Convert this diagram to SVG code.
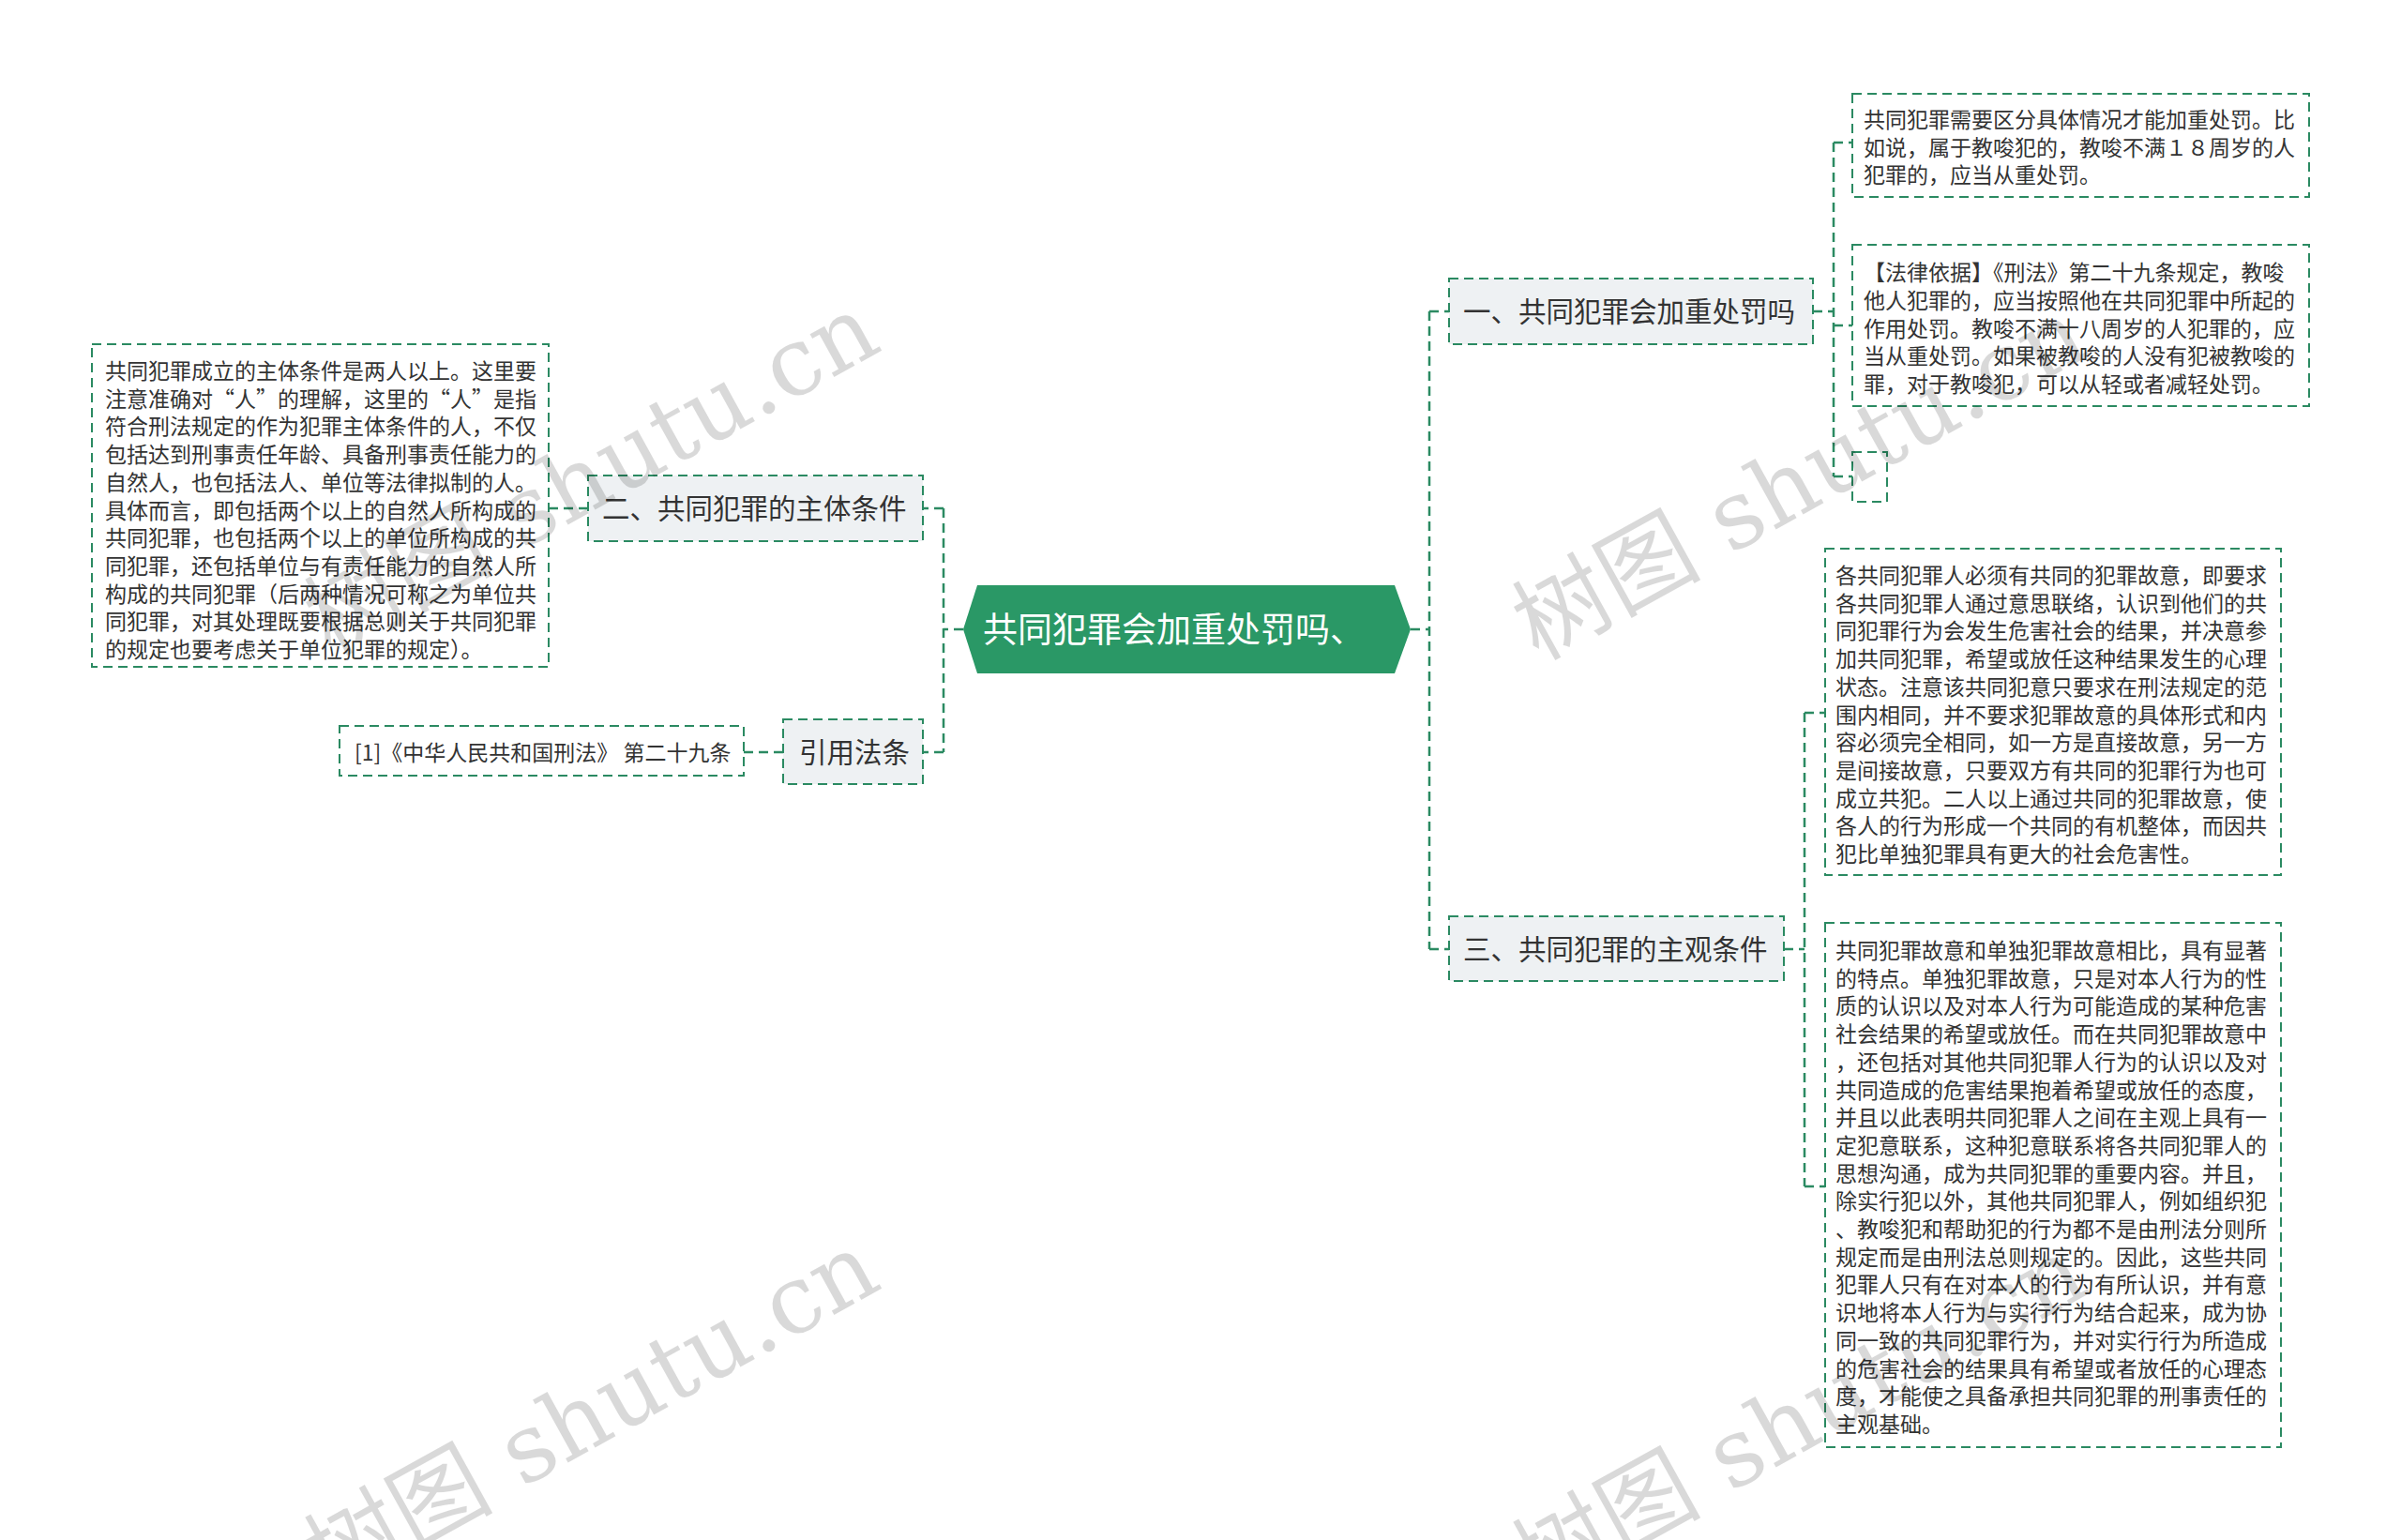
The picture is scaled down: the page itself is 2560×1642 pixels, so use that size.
<svg xmlns="http://www.w3.org/2000/svg" width="2560" height="1642" viewBox="0 0 2560 1642">
<style>
.bg{fill:#ffffff}
.box{fill:#ffffff;stroke:#2b8a62;stroke-width:2;stroke-dasharray:10 6}
.node{fill:#eef1f3;stroke:#2b8a62;stroke-width:2;stroke-dasharray:10 6}
.conn{fill:none;stroke:#2b8a62;stroke-width:2.5;stroke-dasharray:10 6}
.leaf{font-family:"Noto Sans CJK SC","Noto Sans",sans-serif;font-size:23px;fill:#333333}
.lbl{font-family:"Noto Sans CJK SC","Noto Sans",sans-serif;font-size:29.5px;fill:#333333}
.root{font-family:"Noto Sans CJK SC","Noto Sans",sans-serif;font-size:37px;fill:#ffffff}
.wm{font-family:"DejaVu Serif","Noto Sans CJK SC",serif;font-size:101px;fill:#000000;fill-opacity:0.15}
</style>
<rect class="bg" x="0" y="0" width="2560" height="1642"/>

<g id="connectors">
  <path class="conn" d="M1027,671 H1006 M1006,542 V802 M1006,542 H984 M1006,802 H984"/>
  <path class="conn" d="M1504,671 H1524 M1524,332 V1012 M1524,332 H1545 M1524,1012 H1545"/>
  <path class="conn" d="M1933,332 H1955 M1955,152 V508 M1955,152 H1975 M1955,347 H1975 M1955,508 H1975"/>
  <path class="conn" d="M1902,1012 H1924 M1924,760 V1265 M1924,760 H1946 M1924,1265 H1946"/>
  <path class="conn" d="M627,542 H585"/>
  <path class="conn" d="M835,802 H793"/>
</g>

<g id="root">
  <polygon points="1027,671 1042,624 1487,624 1504,671 1487,718 1042,718" fill="#2a9866"/>
  <text class="root" x="1048" y="685">共同犯罪会加重处罚吗、</text>
</g>

<g id="node-2">
  <rect class="node" x="627" y="507" width="357" height="70"/>
  <text class="lbl" x="642" y="553">二、共同犯罪的主体条件</text>
</g>

<g id="leaf-2-1">
  <rect class="box" x="98" y="367" width="487" height="344"/>
  <text class="leaf" x="112" y="404">
    <tspan x="112" y="404">共同犯罪成立的主体条件是两人以上。这里要</tspan>
    <tspan x="112" y="433.7">注意准确对“人”的理解，这里的“人”是指</tspan>
    <tspan x="112" y="463.4">符合刑法规定的作为犯罪主体条件的人，不仅</tspan>
    <tspan x="112" y="493.1">包括达到刑事责任年龄、具备刑事责任能力的</tspan>
    <tspan x="112" y="522.8">自然人，也包括法人、单位等法律拟制的人。</tspan>
    <tspan x="112" y="552.5">具体而言，即包括两个以上的自然人所构成的</tspan>
    <tspan x="112" y="582.2">共同犯罪，也包括两个以上的单位所构成的共</tspan>
    <tspan x="112" y="611.9">同犯罪，还包括单位与有责任能力的自然人所</tspan>
    <tspan x="112" y="641.6">构成的共同犯罪（后两种情况可称之为单位共</tspan>
    <tspan x="112" y="671.3">同犯罪，对其处理既要根据总则关于共同犯罪</tspan>
    <tspan x="112" y="701">的规定也要考虑关于单位犯罪的规定）。</tspan>
  </text>
</g>

<g id="node-ref">
  <rect class="node" x="835" y="767" width="149" height="69"/>
  <text class="lbl" x="852" y="813">引用法条</text>
</g>

<g id="leaf-ref-1">
  <rect class="box" x="362" y="774" width="431" height="53"/>
  <text class="leaf" x="378" y="810.5">[1]《中华人民共和国刑法》 第二十九条</text>
</g>

<g id="node-1">
  <rect class="node" x="1545" y="297" width="388" height="70"/>
  <text class="lbl" x="1560" y="343">一、共同犯罪会加重处罚吗</text>
</g>

<g id="leaf-1-1">
  <rect class="box" x="1975" y="100" width="487" height="110"/>
  <text class="leaf">
    <tspan x="1987" y="136">共同犯罪需要区分具体情况才能加重处罚。比</tspan>
    <tspan x="1987" y="165.7">如说，属于教唆犯的，教唆不满１８周岁的人</tspan>
    <tspan x="1987" y="195.4">犯罪的，应当从重处罚。</tspan>
  </text>
</g>

<g id="leaf-1-2">
  <rect class="box" x="1975" y="261" width="487" height="172"/>
  <text class="leaf">
    <tspan x="1987" y="299.3">【法律依据】《刑法》第二十九条规定，教唆</tspan>
    <tspan x="1987" y="329">他人犯罪的，应当按照他在共同犯罪中所起的</tspan>
    <tspan x="1987" y="358.7">作用处罚。教唆不满十八周岁的人犯罪的，应</tspan>
    <tspan x="1987" y="388.4">当从重处罚。如果被教唆的人没有犯被教唆的</tspan>
    <tspan x="1987" y="418.1">罪，对于教唆犯，可以从轻或者减轻处罚。</tspan>
  </text>
</g>

<g id="leaf-1-3">
  <rect class="box" x="1975" y="482" width="37" height="53"/>
</g>

<g id="node-3">
  <rect class="node" x="1545" y="977" width="357" height="69"/>
  <text class="lbl" x="1560" y="1023">三、共同犯罪的主观条件</text>
</g>

<g id="leaf-3-1">
  <rect class="box" x="1946" y="585" width="486" height="348"/>
  <text class="leaf">
    <tspan x="1957" y="622">各共同犯罪人必须有共同的犯罪故意，即要求</tspan>
    <tspan x="1957" y="651.7">各共同犯罪人通过意思联络，认识到他们的共</tspan>
    <tspan x="1957" y="681.4">同犯罪行为会发生危害社会的结果，并决意参</tspan>
    <tspan x="1957" y="711.1">加共同犯罪，希望或放任这种结果发生的心理</tspan>
    <tspan x="1957" y="740.8">状态。注意该共同犯意只要求在刑法规定的范</tspan>
    <tspan x="1957" y="770.5">围内相同，并不要求犯罪故意的具体形式和内</tspan>
    <tspan x="1957" y="800.2">容必须完全相同，如一方是直接故意，另一方</tspan>
    <tspan x="1957" y="829.9">是间接故意，只要双方有共同的犯罪行为也可</tspan>
    <tspan x="1957" y="859.6">成立共犯。二人以上通过共同的犯罪故意，使</tspan>
    <tspan x="1957" y="889.3">各人的行为形成一个共同的有机整体，而因共</tspan>
    <tspan x="1957" y="919">犯比单独犯罪具有更大的社会危害性。</tspan>
  </text>
</g>

<g id="leaf-3-2">
  <rect class="box" x="1946" y="984" width="486" height="559"/>
  <text class="leaf">
    <tspan x="1957" y="1022">共同犯罪故意和单独犯罪故意相比，具有显著</tspan>
    <tspan x="1957" y="1051.7">的特点。单独犯罪故意，只是对本人行为的性</tspan>
    <tspan x="1957" y="1081.4">质的认识以及对本人行为可能造成的某种危害</tspan>
    <tspan x="1957" y="1111.1">社会结果的希望或放任。而在共同犯罪故意中</tspan>
    <tspan x="1957" y="1140.8">，还包括对其他共同犯罪人行为的认识以及对</tspan>
    <tspan x="1957" y="1170.5">共同造成的危害结果抱着希望或放任的态度，</tspan>
    <tspan x="1957" y="1200.2">并且以此表明共同犯罪人之间在主观上具有一</tspan>
    <tspan x="1957" y="1229.9">定犯意联系，这种犯意联系将各共同犯罪人的</tspan>
    <tspan x="1957" y="1259.6">思想沟通，成为共同犯罪的重要内容。并且，</tspan>
    <tspan x="1957" y="1289.3">除实行犯以外，其他共同犯罪人，例如组织犯</tspan>
    <tspan x="1957" y="1319">、教唆犯和帮助犯的行为都不是由刑法分则所</tspan>
    <tspan x="1957" y="1348.7">规定而是由刑法总则规定的。因此，这些共同</tspan>
    <tspan x="1957" y="1378.4">犯罪人只有在对本人的行为有所认识，并有意</tspan>
    <tspan x="1957" y="1408.1">识地将本人行为与实行行为结合起来，成为协</tspan>
    <tspan x="1957" y="1437.8">同一致的共同犯罪行为，并对实行行为所造成</tspan>
    <tspan x="1957" y="1467.5">的危害社会的结果具有希望或者放任的心理态</tspan>
    <tspan x="1957" y="1497.2">度，才能使之具备承担共同犯罪的刑事责任的</tspan>
    <tspan x="1957" y="1526.9">主观基础。</tspan>
  </text>
</g>

<g id="watermarks">
  <text class="wm" transform="translate(352,700) rotate(-29)">树图 shutu.cn</text>
  <text class="wm" transform="translate(352,1700) rotate(-29)">树图 shutu.cn</text>
  <text class="wm" transform="translate(1640,705) rotate(-29)">树图 shutu.cn</text>
  <text class="wm" transform="translate(1640,1705) rotate(-29)">树图 shutu.cn</text>
</g>
</svg>
